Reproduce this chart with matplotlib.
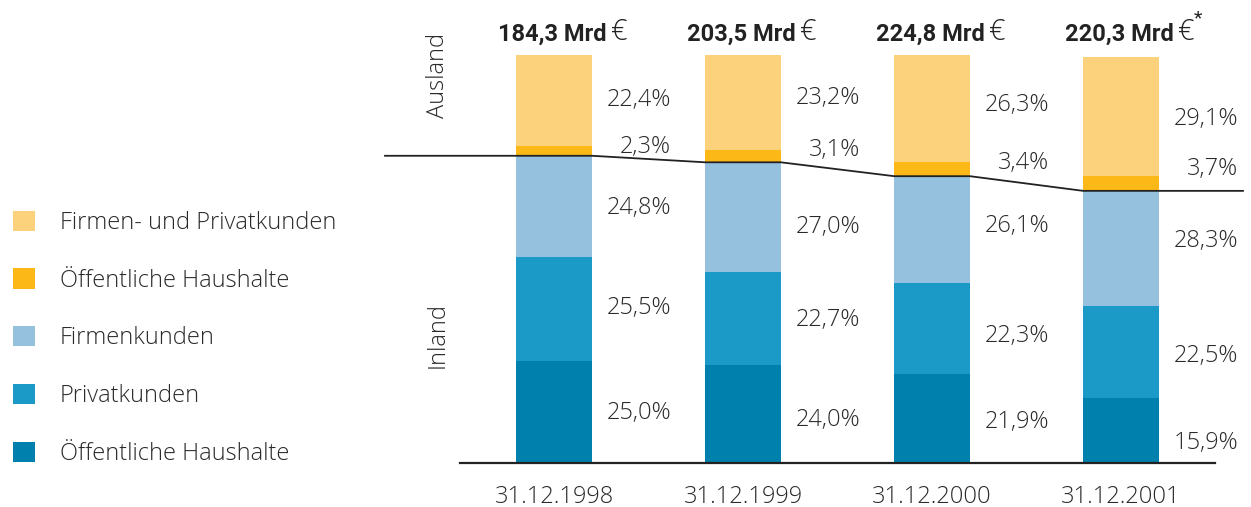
import matplotlib
matplotlib.use("Agg")
import matplotlib.pyplot as plt
from matplotlib.patches import Patch
import numpy as np

plt.rcParams['font.family'] = ['Open Sans', 'DejaVu Sans']

# ---------------- data ----------------
dates = ["31.12.1998", "31.12.1999", "31.12.2000", "31.12.2001"]
totals = ["184,3 Mrd", "203,5 Mrd", "224,8 Mrd", "220,3 Mrd"]
total_note = ["", "", "", "*"]
segments = ["Öffentliche Haushalte", "Privatkunden", "Firmenkunden",
            "Öffentliche Haushalte", "Firmen- und Privatkunden"]
oeff_inland = [25.0, 24.0, 21.9, 15.9]
privat_inland = [25.5, 22.7, 22.3, 22.5]
firmen_inland = [24.8, 27.0, 26.1, 28.3]
oeff_ausland = [2.3, 3.1, 3.4, 3.7]
firmpriv_ausland = [22.4, 23.2, 26.3, 29.1]

# ---------------- style ----------------
colors = ["#0080AD", "#1C9AC7", "#95C1DF", "#FBB817", "#FDD27C"]
txt = "#2A2A2A"
lab_off_px = [[1, -1, 2, -4, -1],
              [6, 1, 10, -6, -4],
              [4, 8, -3, -6, -4],
              [12, 4, -8, -14, 3]]
px_per_pct = 4.08
FS = 17
LW = "light"

W, H = 1251, 507
fig = plt.figure(figsize=(W / 100, H / 100), dpi=100)
x0_px, unit_px = 554, 189
left_px, right_px = 385, 1243
ax = fig.add_axes([left_px / W, (H - 463) / H, (right_px - left_px) / W, 408 / H])
ax.set_xlim((left_px - x0_px) / unit_px, (right_px - x0_px) / unit_px)
ax.set_ylim(0, 100)
ax.axis("off")

x = np.arange(len(dates))
series = [oeff_inland, privat_inland, firmen_inland, oeff_ausland, firmpriv_ausland]
bw = 0.40
bottom = np.zeros(len(dates))
for si, vals in enumerate(series):
    vals = np.array(vals)
    ax.bar(x, vals, bw, bottom=bottom, color=colors[si], linewidth=0, zorder=2)
    for i in range(len(dates)):
        mid = bottom[i] + vals[i] / 2 - lab_off_px[i][si] / px_per_pct
        ax.text(x[i] + 0.62, mid, f"{vals[i]:.1f}%".replace(".", ","),
                ha="right", va="center", fontsize=FS, color=txt, fontweight=LW)
    bottom = bottom + vals

inland_top = np.array(oeff_inland) + np.array(privat_inland) + np.array(firmen_inland)
lx, ly = [ax.get_xlim()[0]], [inland_top[0]]
for i in range(len(dates)):
    lx += [x[i] - bw / 2, x[i] + bw / 2]
    ly += [inland_top[i], inland_top[i]]
lx.append(ax.get_xlim()[1]); ly.append(inland_top[-1])
ax.plot(lx, ly, color="#222222", lw=1.3, zorder=3, clip_on=False)

ax.plot([x[0] - 0.5, x[-1] + 0.5], [0, 0], color="#222222", lw=1.6, zorder=3, clip_on=False)

for i, d in enumerate(dates):
    ax.text(x[i], -8.3, d, ha="center", va="center", fontsize=FS, color=txt, fontweight=LW)

for i, t in enumerate(totals):
    tb = ax.text(x[i] + 0.28, 105.2, t, ha="right", va="center", fontsize=17,
                 fontweight="bold", color="#222222", family="Roboto")
    eu = ax.annotate("€", xy=(1, 0), xycoords=tb, xytext=(3, -1),
                     textcoords="offset points", ha="left", va="bottom",
                     fontsize=21, fontweight=LW, color="#222222")
    if total_note[i]:
        ax.annotate(total_note[i], xy=(1, 1), xycoords=eu, xytext=(-1, -1),
                    textcoords="offset points", ha="left", va="center",
                    fontsize=14, color="#222222", family="Roboto")

ax.text((438 - x0_px) / unit_px, 95.1, "Ausland", rotation=90, ha="center",
        va="center", fontsize=FS, color=txt, fontweight=LW)
ax.text((438 - x0_px) / unit_px, 31.4, "Inland", rotation=90, ha="center",
        va="center", fontsize=FS, color=txt, fontweight=LW)

handles = [Patch(facecolor=colors[i], edgecolor="none", label=segments[i])
           for i in range(len(segments))][::-1]
leg = fig.legend(handles=handles, loc="upper left",
                 bbox_to_anchor=(1 / W, 1 - 199 / H), frameon=False,
                 fontsize=FS, handlelength=0.93, handleheight=0.93,
                 handletextpad=1.05, labelspacing=1.42, borderpad=0)
for t in leg.get_texts():
    t.set_color(txt)
    t.set_fontweight(LW)

fig.savefig("out.png", dpi=100)
